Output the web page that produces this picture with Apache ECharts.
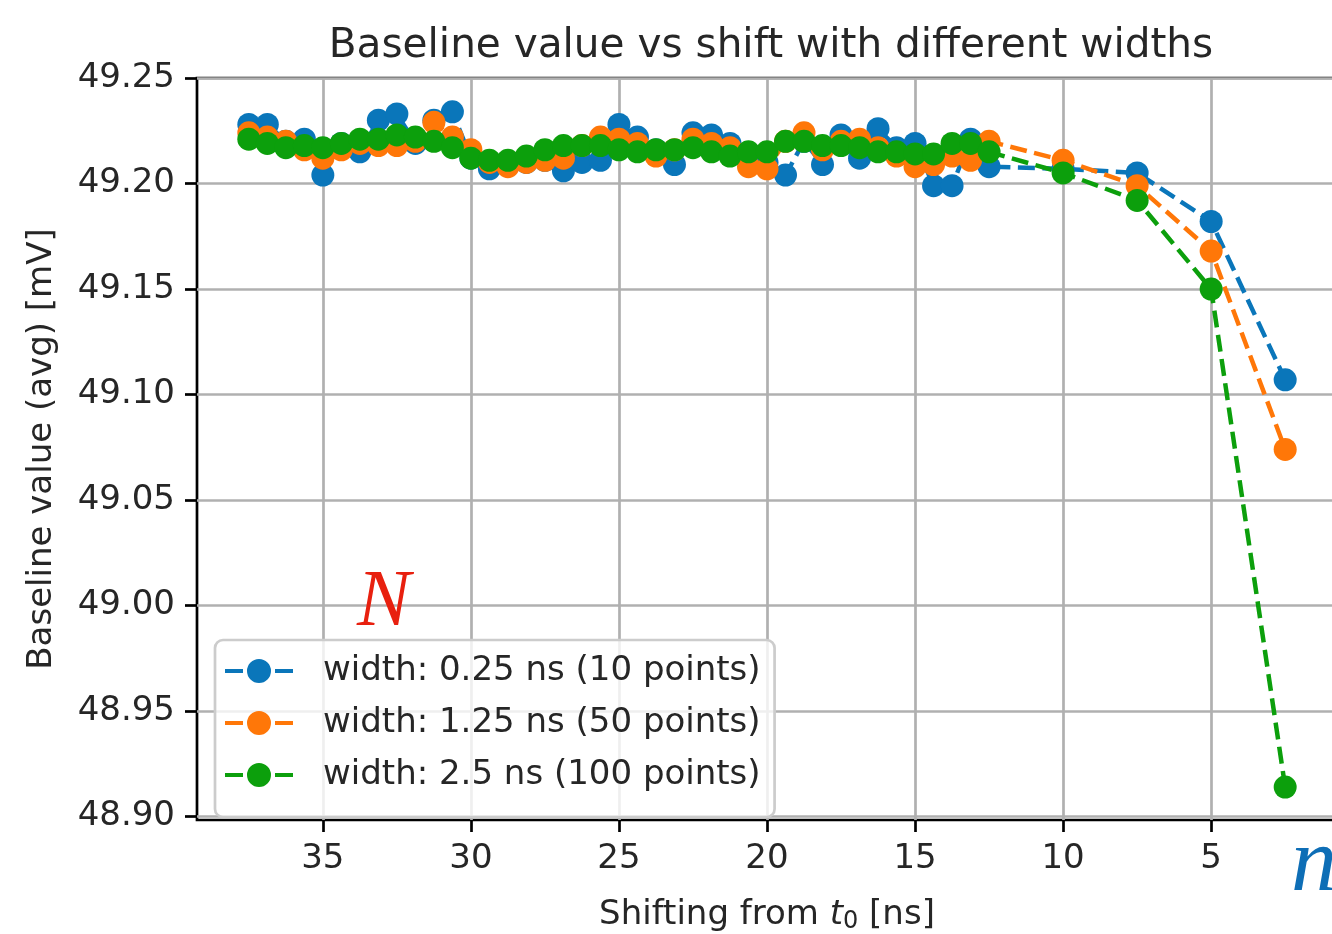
<!DOCTYPE html>
<html>
<head>
<meta charset="utf-8">
<script src="https://cdn.jsdelivr.net/npm/echarts@6/dist/echarts.min.js"></script>
<style>
  html, body { margin: 0; padding: 0; background: #ffffff; }
  #chart { width: 1332px; height: 934px; }
</style>
</head>
<body>
<div id="chart"></div>
<script>
// Shift of the averaging window from t0, in ns
const shiftNs = [37.5, 36.875, 36.25, 35.625, 35, 34.375, 33.75, 33.125, 32.5, 31.875,
  31.25, 30.625, 30, 29.375, 28.75, 28.125, 27.5, 26.875, 26.25, 25.625,
  25, 24.375, 23.75, 23.125, 22.5, 21.875, 21.25, 20.625, 20, 19.375,
  18.75, 18.125, 17.5, 16.875, 16.25, 15.625, 15, 14.375, 13.75, 13.125,
  12.5, 10, 7.5, 5, 2.5];

// Averaged baseline (mV) for each window width
const baselineW025 = [49.228, 49.228, 49.220, 49.221, 49.204, 49.219, 49.215, 49.230, 49.233, 49.219,
  49.230, 49.234, 49.212, 49.207, 49.209, 49.210, 49.211, 49.206, 49.210, 49.211,
  49.228, 49.222, 49.216, 49.209, 49.224, 49.223, 49.219, 49.213, 49.210, 49.204,
  49.220, 49.209, 49.223, 49.212, 49.226, 49.217, 49.219, 49.199, 49.199, 49.221,
  49.208, 49.207, 49.205, 49.182, 49.107];
const baselineW125 = [49.224, 49.222, 49.220, 49.216, 49.212, 49.216, 49.219, 49.218, 49.218, 49.220,
  49.229, 49.222, 49.216, 49.210, 49.208, 49.210, 49.211, 49.212, 49.218, 49.222,
  49.221, 49.219, 49.213, 49.216, 49.221, 49.219, 49.217, 49.208, 49.207, 49.220,
  49.224, 49.216, 49.220, 49.221, 49.217, 49.213, 49.208, 49.209, 49.213, 49.211,
  49.220, 49.211, 49.199, 49.168, 49.074];
const baselineW250 = [49.221, 49.219, 49.217, 49.218, 49.217, 49.219, 49.221, 49.221, 49.223, 49.222,
  49.220, 49.217, 49.212, 49.211, 49.211, 49.213, 49.216, 49.218, 49.218, 49.218,
  49.216, 49.215, 49.216, 49.216, 49.217, 49.215, 49.213, 49.215, 49.215, 49.220,
  49.220, 49.218, 49.218, 49.217, 49.215, 49.215, 49.214, 49.214, 49.219, 49.219,
  49.215, 49.205, 49.192, 49.150, 48.914];

const seriesNames = ['width: 0.25 ns (10 points)', 'width: 1.25 ns (50 points)', 'width: 2.5 ns (100 points)'];
const seriesColors = ['#0a76ba', '#ff7708', '#0c9f0c'];

// Tick positions shown on the axes
const xTicks = [5, 10, 15, 20, 25, 30, 35];
const yTicks = [48.90, 48.95, 49.00, 49.05, 49.10, 49.15, 49.20, 49.25];

const FONT = 'DejaVu Sans';
const TEXT = '#262626';

function pairs(values) {
  return shiftNs.map((x, i) => [x, values[i]]);
}

// Legend handle: dash, dot, dash
const handleIcon = 'path://M0,10H18V14H0Z M22,12A12,12 0 1,0 46,12A12,12 0 1,0 22,12Z M50,10H68V14H50Z';

function makeSeries(name, values, color) {
  return {
    name: name,
    type: 'line',
    data: pairs(values),
    symbol: 'circle',
    symbolSize: 23,
    showSymbol: true,
    lineStyle: { color: color, width: 4.5, type: [17, 7.5] },
    itemStyle: { color: color },
    emphasis: { disabled: true },
    silent: true,
    clip: true
  };
}

const chart = echarts.init(document.getElementById('chart'), null, { renderer: 'canvas' });

chart.setOption({
  animation: false,
  backgroundColor: '#ffffff',
  title: {
    text: 'Baseline value vs shift with different widths',
    left: 766,
    top: 21,
    textAlign: 'center',
    textStyle: { fontFamily: FONT, fontSize: 40.6, fontWeight: 'normal', color: TEXT }
  },
  grid: {
    left: 197,
    top: 78,
    width: 1140,
    height: 742,
    outerBoundsMode: 'none',
    containLabel: false,
    show: true,
    borderColor: '#000000',
    borderWidth: 2.7,
    backgroundColor: 'transparent'
  },
  xAxis: {
    type: 'value',
    inverse: true,
    min: 0.75,
    max: 39.25,
    name: '{a|Shifting from }{t|t}{s|0}{a| [ns]}',
    nameLocation: 'middle',
    nameGap: 76,
    nameTextStyle: {
      fontFamily: FONT,
      color: TEXT,
      rich: {
        a: { fontFamily: FONT, fontSize: 34, color: TEXT },
        t: { fontFamily: FONT, fontSize: 34, fontStyle: 'italic', color: TEXT },
        s: { fontFamily: FONT, fontSize: 24, color: TEXT, padding: [14, 0, 0, 0] }
      }
    },
    axisLine: { show: false },
    axisTick: {
      show: true,
      inside: false,
      length: 12,
      customValues: xTicks,
      lineStyle: { color: '#000000', width: 2.7 }
    },
    axisLabel: {
      show: true,
      margin: 22,
      customValues: xTicks,
      fontFamily: FONT,
      fontSize: 34,
      color: TEXT
    },
    splitLine: { show: true, lineStyle: { color: '#b0b0b0', width: 2.7 } }
  },
  yAxis: {
    type: 'value',
    min: 48.8984,
    max: 49.25,
    name: 'Baseline value (avg) [mV]',
    nameLocation: 'middle',
    nameGap: 138,
    nameRotate: 90,
    nameTextStyle: { fontFamily: FONT, fontSize: 34, color: TEXT },
    axisLine: { show: false },
    axisTick: {
      show: true,
      inside: false,
      length: 12,
      customValues: yTicks,
      lineStyle: { color: '#000000', width: 2.7 }
    },
    axisLabel: {
      show: true,
      margin: 22,
      customValues: yTicks,
      fontFamily: FONT,
      fontSize: 34,
      color: TEXT,
      formatter: (v) => v.toFixed(2)
    },
    splitLine: { show: true, lineStyle: { color: '#b0b0b0', width: 2.7 } }
  },
  legend: {
    show: true,
    orient: 'vertical',
    left: 215,
    top: 640,
    padding: [11, 14, 22, 10],
    itemGap: 12,
    itemWidth: 68,
    itemHeight: 24,
    icon: handleIcon,
    backgroundColor: 'rgba(255,255,255,0.8)',
    borderColor: '#cccccc',
    borderWidth: 2.7,
    borderRadius: 8,
    selectedMode: false,
    data: seriesNames,
    textStyle: {
      fontFamily: FONT,
      fontSize: 34,
      lineHeight: 40,
      color: TEXT,
      padding: [0, 0, 0, 25]
    }
  },
  series: [
    makeSeries(seriesNames[0], baselineW025, seriesColors[0]),
    makeSeries(seriesNames[1], baselineW125, seriesColors[1]),
    makeSeries(seriesNames[2], baselineW250, seriesColors[2])
  ],
  graphic: [
    {
      type: 'text',
      z: 100,
      style: {
        x: 357,
        y: 604,
        text: 'N',
        font: 'italic 80px "Liberation Serif"',
        fill: '#e8200f',
        textAlign: 'left',
        textVerticalAlign: 'middle'
      }
    },
    {
      type: 'text',
      z: 100,
      style: {
        x: 1291,
        y: 866,
        text: 'n',
        font: 'italic 92px "Liberation Serif"',
        fill: '#0e6eb6',
        textAlign: 'left',
        textVerticalAlign: 'middle'
      }
    }
  ]
});
</script>
</body>
</html>
